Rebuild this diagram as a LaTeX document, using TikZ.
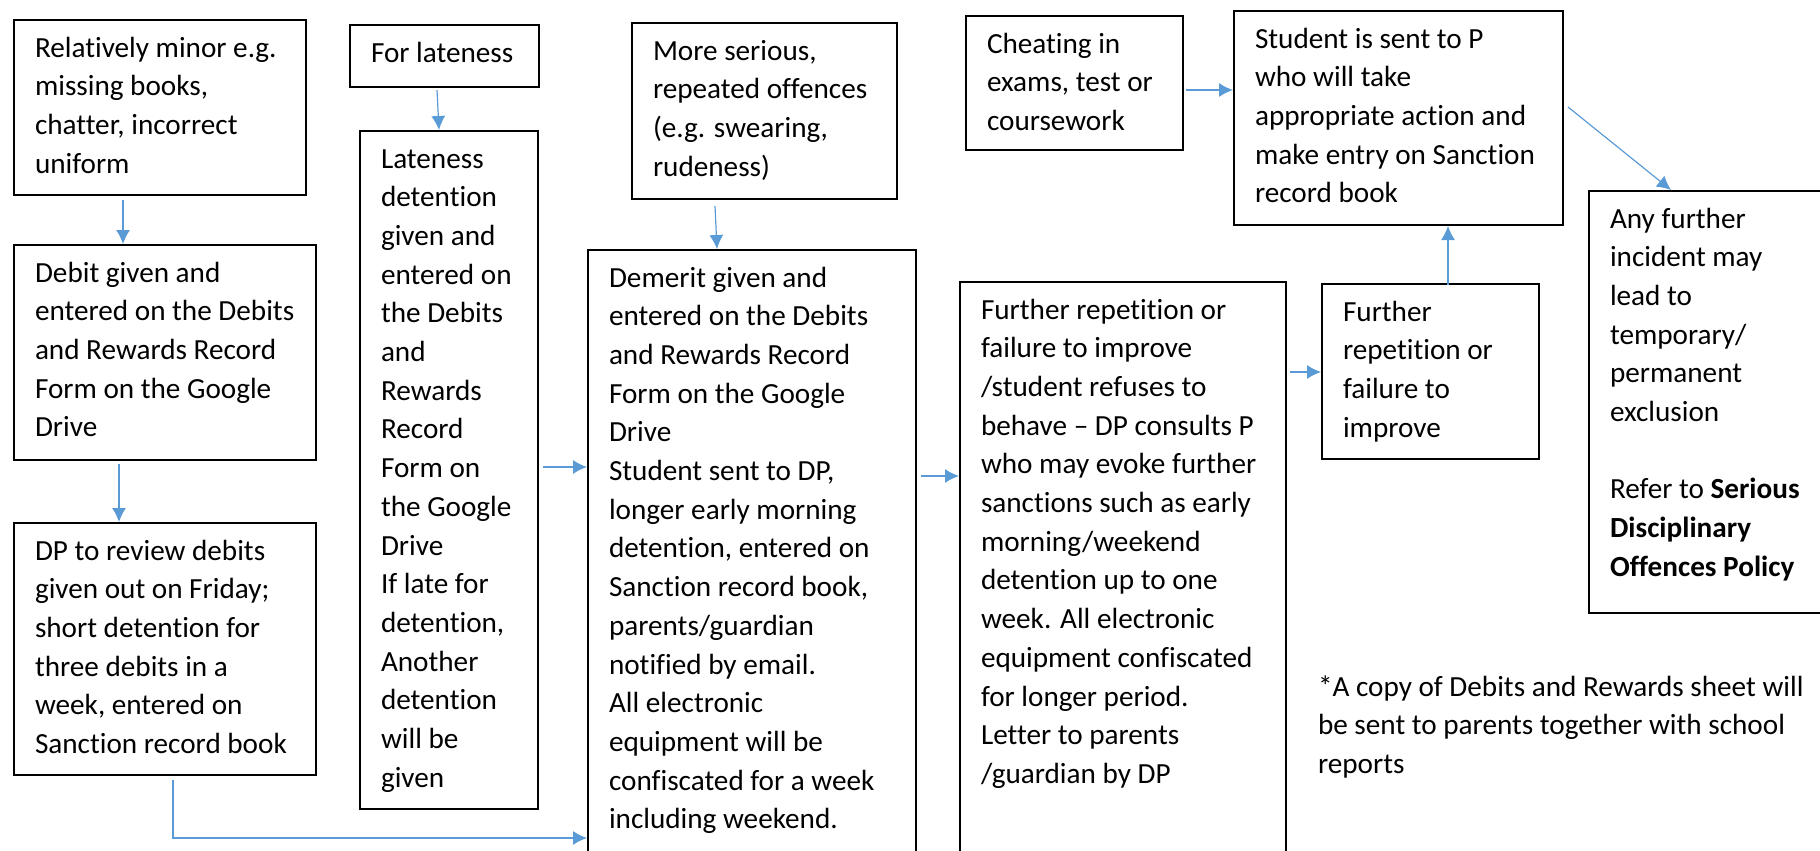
\documentclass[tikz,border=0pt]{standalone}
\usepackage{fontspec}
\setmainfont{Carlito}[Ligatures={TeX,NoCommon}]
\usetikzlibrary{arrows.meta,calc}
\definecolor{linkblue}{HTML}{5B9BD5}
\newdimen\pxu \pxu=0.5pt
% box text: width, height (in px), lines
\newcommand{\boxtxt}[3]{\parbox[t][#2\pxu][t]{#1\pxu}{\raggedright\leftskip=21\pxu\rule{0pt}{37\pxu}#3}}
\tikzset{
  card/.style={draw,line width=1pt,inner sep=0pt,anchor=north west,
    font=\fontsize{14.6}{19.35}\selectfont},
  note/.style={card,draw=none},
  link/.style={linkblue,line width=0.6pt,-{Latex[length=7pt,width=7pt]}}
}
\begin{document}
\begin{tikzpicture}[x=0.5pt,y=-0.5pt]
  \useasboundingbox (0,0) rectangle (1820,851);
  % left column
  \node[card] (minor) at (13,19) {\boxtxt{292}{175}{Relatively minor e.g.\\ missing books,\\ chatter, incorrect\\ uniform}};
  \node[card] (debit) at (13,244) {\boxtxt{302}{215}{Debit given and\\ entered on the Debits\\ and Rewards Record\\ Form on the Google\\ Drive}};
  \node[card] (review) at (13,522) {\boxtxt{302}{252}{DP to review debits\\ given out on Friday;\\ short detention for\\ three debits in a\\ week, entered on\\ Sanction record book}};
  % lateness
  \node[card] (forlate) at (349,24) {\boxtxt{189}{62}{For lateness}};
  \node[card] (latedet) at (359,130) {\boxtxt{178}{678}{Lateness\\ detention\\ given and\\ entered on\\ the Debits\\ and\\ Rewards\\ Record\\ Form on\\ the Google\\ Drive\\ If late for\\ detention,\\ Another\\ detention\\ will be\\ given}};
  % serious offences
  \node[card] (serious) at (631,22) {\boxtxt{265}{176}{More serious,\\ repeated offences\\ (e.g. swearing,\\ rudeness)}};
  \node[card] (demerit) at (587,249) {\boxtxt{328}{640}{Demerit given and\\ entered on the Debits\\ and Rewards Record\\ Form on the Google\\ Drive\\ Student sent to DP,\\ longer early morning\\ detention, entered on\\ Sanction record book,\\ parents/guardian\\ notified by email.\\ All electronic\\ equipment will be\\ confiscated for a week\\ including weekend.}};
  \node[card] (further) at (959,281) {\boxtxt{326}{610}{Further repetition or\\ failure to improve\\ /student refuses to\\ behave – DP consults P\\ who may evoke further\\ sanctions such as early\\ morning/weekend\\ detention up to one\\ week. All electronic\\ equipment confiscated\\ for longer period.\\ Letter to parents\\ /guardian by DP}};
  % cheating
  \node[card] (cheat) at (965,15) {\boxtxt{217}{134}{Cheating in\\ exams, test or\\ coursework}};
  \node[card] (studentP) at (1233,10) {\boxtxt{329}{214}{Student is sent to P\\ who will take\\ appropriate action and\\ make entry on Sanction\\ record book}};
  \node[card] (further2) at (1321,283) {\boxtxt{217}{175}{Further\\ repetition or\\ failure to\\ improve}};
  \node[card] (anyfurther) at (1588,190) {\boxtxt{260}{422}{Any further\\ incident may\\ lead to\\ temporary/\\ permanent\\ exclusion\\ \mbox{}\\ Refer to \textbf{Serious}\\ \textbf{Disciplinary}\\ \textbf{Offences Policy}}};
  \node[note] (footnote) at (1296,658) {\boxtxt{520}{120}{*A copy of Debits and Rewards sheet will\\ be sent to parents together with school\\ reports}};

  \draw[link] ($(minor.south west)+(110,4)$) -- ($(debit.north west)+(110,0)$);
  \draw[link] ($(debit.south west)+(106,3)$) -- ($(review.north west)+(106,0)$);
  \draw[link] ($(review.south west)+(160,4)$) |- ($(demerit.north west)+(0,589)$);
  \draw[link] ($(forlate.south west)+(88,2)$) -- ($(latedet.north west)+(80,0)$);
  \draw[link] ($(latedet.north east)+(4,337)$) -- ($(demerit.north west)+(0,218)$);
  \draw[link] ($(serious.south west)+(84,6)$) -- ($(demerit.north west)+(130,0)$);
  \draw[link] ($(demerit.north east)+(4,227)$) -- ($(further.north west)+(0,195)$);
  \draw[link] ($(further.north east)+(3,91)$) -- ($(further2.north west)+(0,89)$);
  \draw[link] ($(further2.north west)+(127,2)$) -- ($(studentP.south west)+(215,0)$);
  \draw[link] ($(cheat.north east)+(2,75)$) -- ($(studentP.north west)+(0,80)$);
  \draw[link] ($(studentP.north east)+(4,97)$) -- ($(anyfurther.north west)+(83,0)$);
\end{tikzpicture}
\end{document}
